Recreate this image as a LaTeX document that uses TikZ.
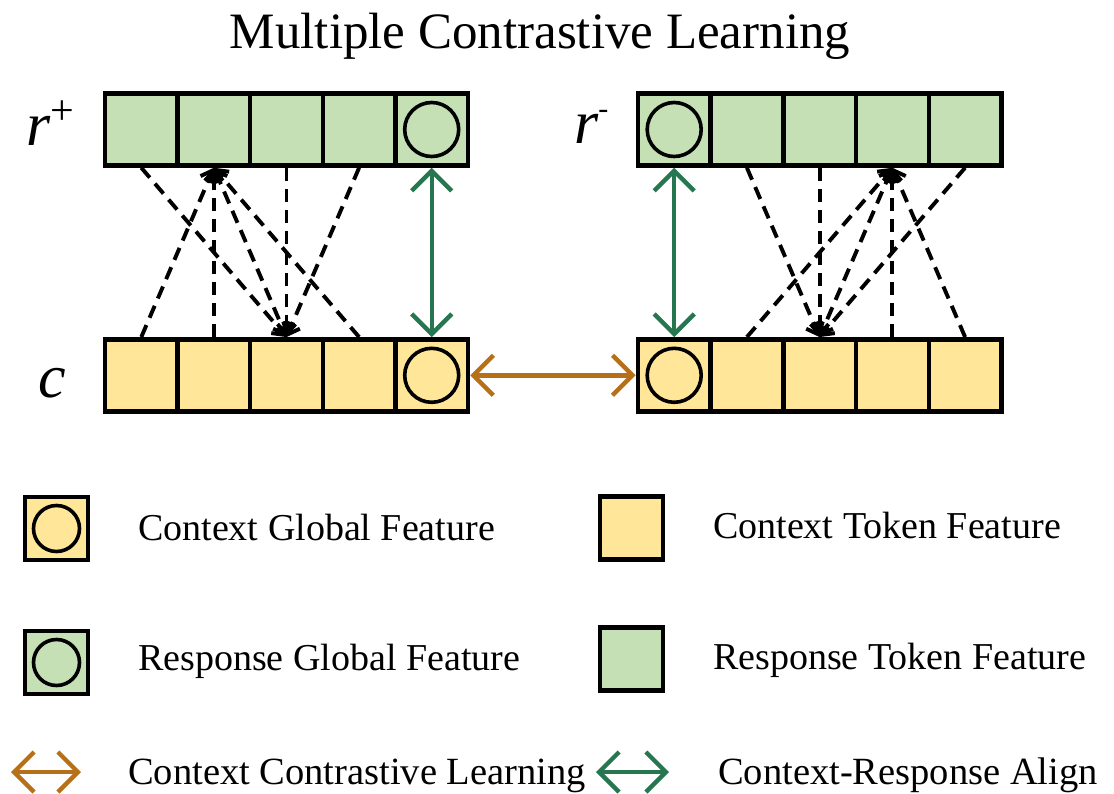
\documentclass[tikz,border=0pt]{standalone}
\usepackage{fontspec}
\setmainfont{Liberation Serif}
\usetikzlibrary{arrows.meta}

\definecolor{respfill}{HTML}{C5E0B4}
\definecolor{ctxfill}{HTML}{FFE699}
\definecolor{aligncol}{RGB}{38,118,80}
\definecolor{contrcol}{RGB}{182,112,24}

\tikzset{
  cell/.style={draw, line width=4.5pt, minimum width=72.7pt, minimum height=72pt,
               inner sep=0pt, outer sep=2.25pt},
  ctxcell/.style={cell, fill=ctxfill},
  respcell/.style={cell, fill=respfill},
  globcell/.style={path picture={\draw[line width=3.6pt]
      (path picture bounding box.center) circle (27pt);}},
  legbox/.style={draw, line width=4.6pt, minimum size=63pt, inner sep=0pt},
  legglob/.style={path picture={\draw[line width=3.6pt]
      (path picture bounding box.center) circle (23pt);}},
  smallhead/.tip={Straight Barb[length=10pt,width=18pt]},
  bighead/.tip={Straight Barb[length=20pt,width=40pt]},
  attn/.style={draw, line width=3.9pt, dash pattern=on 13pt off 8pt, -smallhead},
  attnboth/.style={attn, smallhead-smallhead},
  alignarrow/.style={draw=aligncol, line width=4.4pt, bighead-bighead, color=aligncol},
  contrarrow/.style={draw=contrcol, line width=4.4pt, bighead-bighead, color=contrcol},
  legtext/.style={anchor=base west, inner sep=0pt, font=\fontsize{38}{40}\selectfont},
  sym/.style={anchor=base west, inner sep=0pt, font=\fontsize{62}{62}\selectfont\itshape}
}

\begin{document}
\begin{tikzpicture}[x=1pt,y=-1pt]
\useasboundingbox (0,0) rectangle (1114,793);

% title
\node[anchor=base, inner sep=0pt, font=\fontsize{51}{51}\selectfont] (title) at (540,48)
  {Multiple Contrastive Learning};

% left block: positive response (top) and context (bottom)
\node[respcell] (Lt1) at (141.3,129.5) {};
\node[respcell] (Lt2) at (213.9,129.5) {};
\node[respcell] (Lt3) at (286.5,129.5) {};
\node[respcell] (Lt4) at (359.1,129.5) {};
\node[respcell, globcell] (Lt5) at (431.7,129.5) {};

\node[ctxcell] (Lb1) at (141.3,375.3) {};
\node[ctxcell] (Lb2) at (213.9,375.3) {};
\node[ctxcell] (Lb3) at (286.5,375.3) {};
\node[ctxcell] (Lb4) at (359.1,375.3) {};
\node[ctxcell, globcell] (Lb5) at (431.7,375.3) {};

% right block: negative response (top) and context (bottom)
\node[respcell, globcell] (Rt1) at (674.2,129.5) {};
\node[respcell] (Rt2) at (746.9,129.5) {};
\node[respcell] (Rt3) at (819.6,129.5) {};
\node[respcell] (Rt4) at (892.4,129.5) {};
\node[respcell] (Rt5) at (965.1,129.5) {};

\node[ctxcell, globcell] (Rb1) at (674.2,375.3) {};
\node[ctxcell] (Rb2) at (746.9,375.3) {};
\node[ctxcell] (Rb3) at (819.6,375.3) {};
\node[ctxcell] (Rb4) at (892.4,375.3) {};
\node[ctxcell] (Rb5) at (965.1,375.3) {};

% row labels
\node[sym] (rpos) at (26,145)
  {r\raisebox{21pt}{\fontsize{42}{42}\selectfont\upshape +}};
\node[sym] (rneg) at (574,143)
  {r\raisebox{25pt}{\fontsize{30}{30}\selectfont\upshape -}};
\node[sym] (ctx) at (38,397) {c};

% token-level attention, left block
\draw[attn] (Lt1.south) -- (Lb3.north);
\draw[attn] (Lt3.south) -- (Lb3.north);
\draw[attn] (Lt4.south) -- (Lb3.north);
\draw[attnboth] (Lt2.south) -- (Lb3.north);
\draw[attn] (Lb1.north) -- (Lt2.south);
\draw[attn] (Lb2.north) -- (Lt2.south);
\draw[attn] (Lb4.north) -- (Lt2.south);

% token-level attention, right block
\draw[attn] (Rt2.south) -- (Rb3.north);
\draw[attn] (Rt3.south) -- (Rb3.north);
\draw[attn] (Rt5.south) -- (Rb3.north);
\draw[attnboth] (Rt4.south) -- (Rb3.north);
\draw[attn] (Rb2.north) -- (Rt4.south);
\draw[attn] (Rb4.north) -- (Rt4.south);
\draw[attn] (Rb5.north) -- (Rt4.south);

% global alignment and context contrast
\draw[alignarrow] (Lt5.south) -- (Lb5.north);
\draw[alignarrow] (Rt1.south) -- (Rb1.north);
\draw[contrarrow] (Lb5.east) -- (Rb1.west);

% legend
\node[legbox, fill=ctxfill, legglob] (kcg) at (56.5,528.5) {};
\node[legtext] (kcgt) at (138,540) {Context Global Feature};
\node[legbox, fill=respfill, legglob] (krg) at (56.5,662.5) {};
\node[legtext] (krgt) at (138,670) {Response Global Feature};
\node[legbox, fill=ctxfill] (kct) at (631.5,528) {};
\node[legtext] (kctt) at (713,538) {Context Token Feature};
\node[legbox, fill=respfill] (krt) at (631.5,659) {};
\node[legtext] (krtt) at (713,669) {Response Token Feature};

\coordinate (cl1) at (11,772);
\coordinate (cl2) at (81,772);
\coordinate (al1) at (596,772);
\coordinate (al2) at (669,772);
\draw[contrarrow] (cl1) -- (cl2);
\draw[alignarrow] (al1) -- (al2);
\node[legtext, font=\fontsize{38.5}{40}\selectfont] (kcl) at (128,784) {Context Contrastive Learning};
\node[legtext, font=\fontsize{38.5}{40}\selectfont] (kal) at (718,784) {Context-Response Align};
\end{tikzpicture}
\end{document}
